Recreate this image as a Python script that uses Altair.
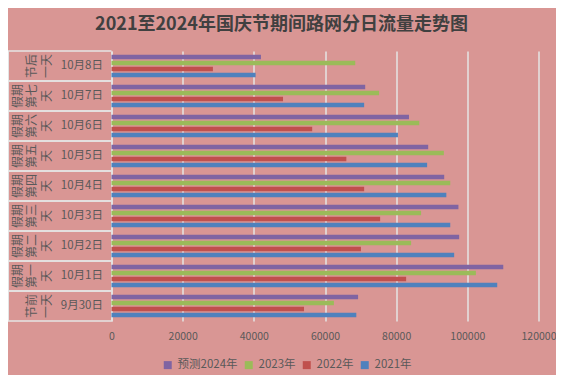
import altair as alt
import pandas as pd

dates = ["10月8日", "10月7日", "10月6日", "10月5日", "10月4日", "10月3日", "10月2日", "10月1日", "9月30日"]
groups = ["节后一天", "假期第七天", "假期第六天", "假期第五天", "假期第四天", "假期第三天", "假期第二天", "假期第一天", "节前一天"]
series = ["预测2024年", "2023年", "2022年", "2021年"]
colors = ["#8064A2", "#9BBB59", "#C0504D", "#4F81BD"]

v2024 = [42000, 71300, 83600, 89000, 93500, 97500, 97700, 110100, 69300]
v2023 = [68500, 75200, 86500, 93400, 95200, 87000, 84200, 102400, 62500]
v2022 = [28500, 48200, 56400, 66000, 71000, 75500, 70100, 82800, 54100]
v2021 = [40500, 71000, 80500, 88700, 94100, 95200, 96300, 108400, 68800]
x_ticks = [0, 20000, 40000, 60000, 80000, 100000, 120000]
title_text = "2021至2024年国庆节期间路网分日流量走势图"

rows = []
for s, vals in zip(series, [v2024, v2023, v2022, v2021]):
    for d, v in zip(dates, vals):
        rows.append({"date": d, "series": s, "value": v})
df = pd.DataFrame(rows)

# group labels split into 2-character columns (rightmost column = pos 0)
lab_rows = []
for d, g in zip(dates, groups):
    chunks = [g[i:i + 2] for i in range(0, len(g), 2)]
    n = len(chunks)
    for i, c in enumerate(chunks):
        lab_rows.append({"date": d, "chunk": c, "pos": n - 1 - i})
labels_df = pd.DataFrame(lab_rows)
dates_df = pd.DataFrame({"date": dates})
title_df = pd.DataFrame({"t": [title_text]})

FONT = "Noto Sans CJK SC"
TXT = "#595959"
LINE = "#E4E4E4"

y_enc = alt.Y("date:N", sort=dates, title=None,
              scale=alt.Scale(paddingInner=0, paddingOuter=0),
              axis=alt.Axis(labelFontSize=11.5, labelColor=TXT, labelFont=FONT,
                            ticks=False, labelPadding=9, domainColor=LINE,
                            domainWidth=1.5, grid=False))

bars = alt.Chart(df).mark_bar().encode(
    x=alt.X("value:Q", title=None,
            scale=alt.Scale(domain=[0, 120000], nice=False),
            axis=alt.Axis(values=x_ticks, format="d", grid=True, gridColor=LINE,
                          gridWidth=1.5, domain=False, ticks=False,
                          labelFlush=False, labelOverlap=False,
                          labelFontSize=10.5, labelColor=TXT, labelFont=FONT,
                          labelPadding=10)),
    y=y_enc,
    yOffset=alt.YOffset("series:N", sort=series,
                        scale=alt.Scale(paddingInner=0.25, paddingOuter=0.625)),
    color=alt.Color("series:N", sort=series,
                    scale=alt.Scale(domain=series, range=colors),
                    legend=alt.Legend(title=None, orient="none", direction="horizontal",
                                      legendX=50.5, legendY=308,
                                      symbolType="square", symbolSize=64,
                                      symbolStrokeWidth=0, labelFontSize=11.5,
                                      labelColor=TXT, labelFont=FONT,
                                      labelOffset=4, columnPadding=5)),
)

text_layers = []
for pos, xv in [(0, -64.8), (1, -79.3), (2, -93.7)]:
    text_layers.append(
        alt.Chart(labels_df).transform_filter(alt.datum.pos == pos).mark_text(
            angle=270, align="center", baseline="middle", fontSize=12,
            font=FONT, color=TXT
        ).encode(
            x=alt.value(xv),
            y=alt.Y("date:N", sort=dates),
            text="chunk:N",
        )
    )

sep_top = alt.Chart(dates_df).mark_rule(color=LINE, strokeWidth=1.5).encode(
    y=alt.Y("date:N", sort=dates, bandPosition=0),
    x=alt.value(-103.5), x2=alt.value(0),
)
sep_bot = alt.Chart(dates_df).mark_rule(color=LINE, strokeWidth=1.5).encode(
    y=alt.Y("date:N", sort=dates, bandPosition=1),
    x=alt.value(-103.5), x2=alt.value(0),
)
left_line = alt.Chart(dates_df).mark_rule(color=LINE, strokeWidth=1.5).encode(
    x=alt.value(-103.5), y=alt.value(0), y2=alt.value(270),
)

title = alt.Chart(title_df).mark_text(
    fontSize=18, fontWeight="bold", font=FONT, color="#404040",
    align="center", baseline="middle"
).encode(x=alt.value(170), y=alt.value(-26.5), text="t:N")

chart = alt.layer(bars, sep_top, sep_bot, left_line, title, *text_layers).properties(
    width=427, height=270,
    autosize=alt.AutoSizeParams(type="none"),
    padding={"left": 103.5, "top": 43, "right": 17.5, "bottom": 54},
    background="#D99694",
).configure_view(stroke=None)

chart.save("out.html", embed_options={"renderer": "svg", "actions": False})
